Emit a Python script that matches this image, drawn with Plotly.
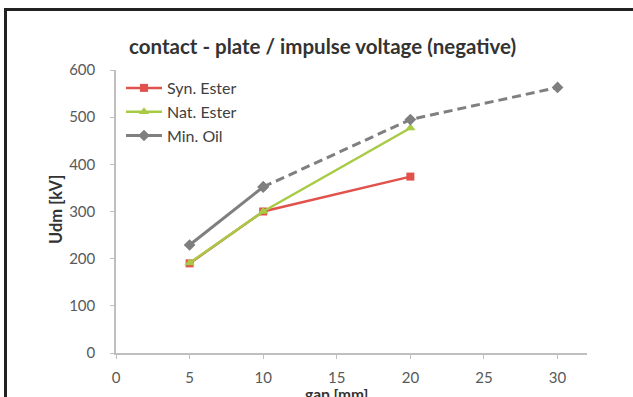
import plotly.graph_objects as go

# Data
gap_syn = [5, 10, 20]
syn_ester = [190, 300, 374]
gap_nat = [5, 10, 20]
nat_ester = [191, 300, 477]
gap_min = [5, 10, 20, 30]
min_oil = [229, 352, 495, 563]
x_ticks = [0, 5, 10, 15, 20, 25, 30]
y_ticks = [0, 100, 200, 300, 400, 500, 600]

RED = "#E0524B"
GREEN = "#A8CB45"
GRAY = "#7F7F7F"
FONT = "Lato"

fig = go.Figure()
fig.add_trace(go.Scatter(x=gap_syn, y=syn_ester, name="Syn. Ester", mode="lines+markers",
                         line=dict(color=RED, width=2.5),
                         marker=dict(symbol="square", size=8, color=RED)))
fig.add_trace(go.Scatter(x=gap_nat, y=nat_ester, name="Nat. Ester", mode="lines+markers",
                         line=dict(color=GREEN, width=2.5),
                         marker=dict(symbol="triangle-up", size=9, color=GREEN)))
fig.add_trace(go.Scatter(x=gap_min[1:], y=min_oil[1:], name="Min. Oil", mode="lines+markers",
                         line=dict(color=GRAY, width=3, dash="9px,5px"),
                         marker=dict(symbol="diamond", size=9, color=GRAY), showlegend=False))
fig.add_trace(go.Scatter(x=gap_min[:2], y=min_oil[:2], name="Min. Oil", mode="lines+markers",
                         line=dict(color=GRAY, width=3),
                         marker=dict(symbol="diamond", size=9, color=GRAY)))

W, H = 633, 397
ml, mr, mt, mb = 116, 46, 70, 44
pw, ph = W - ml - mr, H - mt - mb

def px_to_paper_x(px):
    return (px - ml) / pw

def px_to_paper_y(py):
    return 1 - (py - mt) / ph

fig.update_layout(
    width=W, height=H,
    margin=dict(l=ml, r=mr, t=mt, b=mb),
    paper_bgcolor="white", plot_bgcolor="white",
    font=dict(family=FONT, color="#595959", size=15),
    showlegend=True,
    legend=dict(x=px_to_paper_x(121), y=px_to_paper_y(71), xanchor="left", yanchor="top",
                bgcolor="rgba(0,0,0,0)", font=dict(size=16, color="#404040"),
                traceorder="normal", itemwidth=36),
    xaxis=dict(range=[0, 32], tickvals=x_ticks, showgrid=False, zeroline=False,
               showline=True, linecolor="#BFBFBF", linewidth=1.5,
               ticks="outside", ticklen=4, tickcolor="#BFBFBF", ticklabelstandoff=6,
               tickfont=dict(size=15, color="#595959")),
    yaxis=dict(range=[0, 600], tickvals=y_ticks, showgrid=False, zeroline=False,
               showline=True, linecolor="#BFBFBF", linewidth=1.5,
               ticks="outside", ticklen=4, tickcolor="#BFBFBF", ticklabelstandoff=12,
               tickfont=dict(size=15, color="#595959")),
)

# Title and axis titles
fig.add_annotation(text="<b>contact - plate / impulse voltage (negative)</b>", xref="paper", yref="paper",
                   x=px_to_paper_x(322), y=px_to_paper_y(46), showarrow=False,
                   font=dict(size=20.5, color="#333333", family=FONT), xanchor="center", yanchor="middle")
fig.add_annotation(text="<b>Udm [kV]</b>", xref="paper", yref="paper",
                   x=px_to_paper_x(56), y=px_to_paper_y(210), showarrow=False, textangle=-90,
                   font=dict(size=16.5, color="#333333", family=FONT), xanchor="center", yanchor="middle")
fig.add_annotation(text="<b>gap [mm]</b>", xref="paper", yref="paper",
                   x=px_to_paper_x(336), y=px_to_paper_y(394), showarrow=False,
                   font=dict(size=15.5, color="#333333", family=FONT), xanchor="center", yanchor="middle")

# Outer black frame (left and top edges visible)
fig.add_shape(type="rect", xref="paper", yref="paper",
              x0=px_to_paper_x(5.5), x1=px_to_paper_x(700),
              y0=px_to_paper_y(450), y1=px_to_paper_y(9.5),
              line=dict(color="#222222", width=3), layer="above")

fig.write_html("out.html")
